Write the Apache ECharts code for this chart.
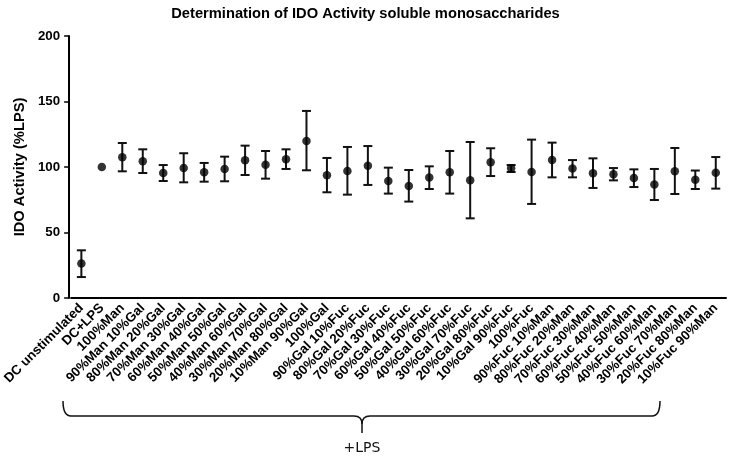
<!DOCTYPE html>
<html>
<head>
<meta charset="utf-8">
<script src="https://cdn.jsdelivr.net/npm/echarts@6/dist/echarts.min.js"></script>
<style>
html,body{margin:0;padding:0;background:#fff;}
#chart{width:731px;height:458px;}
</style>
</head>
<body>
<div id="chart"></div>
<script>
var categories = [
  'DC unstimulated','DC+LPS','100%Man',
  '90%Man 10%Gal','80%Man 20%Gal','70%Man 30%Gal','60%Man 40%Gal','50%Man 50%Gal',
  '40%Man 60%Gal','30%Man 70%Gal','20%Man 80%Gal','10%Man 90%Gal','100%Gal',
  '90%Gal 10%Fuc','80%Gal 20%Fuc','70%Gal 30%Fuc','60%Gal 40%Fuc','50%Gal 50%Fuc',
  '40%Gal 60%Fuc','30%Gal 70%Fuc','20%Gal 80%Fuc','10%Gal 90%Fuc','100%Fuc',
  '90%Fuc 10%Man','80%Fuc 20%Man','70%Fuc 30%Man','60%Fuc 40%Man','50%Fuc 50%Man',
  '40%Fuc 60%Man','30%Fuc 70%Man','20%Fuc 80%Man','10%Fuc 90%Man'
];
var means = [26.3,100,107.4,104.3,95.4,99.2,96.0,98.5,105.1,101.8,106.0,119.9,93.7,97.0,101.0,89.3,85.5,91.9,96.0,89.8,103.6,99.0,96.2,105.3,98.8,95.2,94.4,91.6,86.6,96.7,90.3,95.7];
var errHigh = [36.4,null,118.3,113.5,101.5,110.5,103.1,107.9,116.3,112.2,113.5,142.8,106.9,115.3,116.0,99.5,97.7,100.5,112.2,119.1,114.3,101.5,120.9,118.6,105.3,106.6,99.2,98.2,98.5,114.5,97.3,107.6];
var errLow = [16.0,null,96.7,95.4,89.3,88.3,88.8,89.1,93.9,91.1,98.5,97.5,80.7,78.9,86.3,79.7,73.6,83.2,79.7,60.8,93.1,96.2,71.8,92.1,92.1,84.0,89.8,84.7,74.8,79.4,83.2,83.5];
var yTicks = [0,50,100,150,200];
var titleText = 'Determination of IDO Activity soluble monosaccharides';
var yName = 'IDO Activity (%LPS)';
var bracketLabel = '+LPS';

var errData = categories.map(function(c,i){ return [i, errLow[i], errHigh[i]]; });
var pointData = categories.map(function(c,i){ return [i, means[i]]; });

var chart = echarts.init(document.getElementById('chart'), null, {renderer:'canvas'});
var FONT = 'Liberation Sans, Arial, sans-serif';
var bst = {stroke:'#111', lineWidth:1.5, fill:null};
chart.setOption({
  animation:false,
  backgroundColor:'#fff',
  title:{
    text:titleText, left:'center', top:1,
    textStyle:{fontFamily:FONT, fontWeight:'bold', fontSize:14.7, color:'#000'}
  },
  grid:{left:68, right:5, top:36, bottom:160, containLabel:false},
  xAxis:{
    type:'category', data:categories, boundaryGap:true,
    axisLine:{lineStyle:{color:'#000', width:2}},
    axisTick:{alignWithLabel:true, length:5, lineStyle:{color:'#000', width:1.5}},
    axisLabel:{interval:0, rotate:45, margin:8, color:'#000', fontFamily:FONT, fontWeight:'bold', fontSize:13.3},
    splitLine:{show:false}
  },
  yAxis:{
    type:'value', min:yTicks[0], max:yTicks[yTicks.length-1], interval:50, offset:2,
    name:yName, nameLocation:'middle', nameGap:27, nameRotate:90,
    nameTextStyle:{fontFamily:FONT, fontWeight:'bold', fontSize:14.7, color:'#000'},
    axisLine:{show:true, lineStyle:{color:'#000', width:2}},
    axisTick:{show:true, length:5, lineStyle:{color:'#000', width:1.5}},
    axisLabel:{margin:9, color:'#000', fontFamily:FONT, fontWeight:'bold', fontSize:13.3},
    splitLine:{show:false}
  },
  series:[
    {
      type:'custom', data:errData, z:2,
      renderItem:function(params, api){
        var lo = api.value(1), hi = api.value(2);
        if (lo == null || hi == null || isNaN(lo) || isNaN(hi)) return {type:'group', children:[]};
        var x = api.value(0);
        var p1 = api.coord([x, hi]);
        var p2 = api.coord([x, lo]);
        var hw = 4.5;
        var st = {stroke:'#111', lineWidth:2};
        return {type:'group', children:[
          {type:'line', shape:{x1:p1[0], y1:p1[1], x2:p2[0], y2:p2[1]}, style:st},
          {type:'line', shape:{x1:p1[0]-hw, y1:p1[1], x2:p1[0]+hw, y2:p1[1]}, style:st},
          {type:'line', shape:{x1:p2[0]-hw, y1:p2[1], x2:p2[0]+hw, y2:p2[1]}, style:st}
        ]};
      }
    },
    {
      type:'scatter', data:pointData, symbol:'circle', symbolSize:8.5, z:3,
      itemStyle:{color:'#000'}
    }
  ],
  graphic:[
    {type:'bezierCurve', shape:{x1:63,y1:401,cpx1:63,cpy1:416,x2:71,y2:416}, style:bst},
    {type:'line', shape:{x1:71,y1:416,x2:354,y2:416}, style:bst},
    {type:'bezierCurve', shape:{x1:354,y1:416,cpx1:362,cpy1:416,x2:362,y2:424}, style:bst},
    {type:'line', shape:{x1:362,y1:424,x2:362,y2:433}, style:bst},
    {type:'bezierCurve', shape:{x1:370,y1:416,cpx1:362,cpy1:416,x2:362,y2:424}, style:bst},
    {type:'line', shape:{x1:370,y1:416,x2:652,y2:416}, style:bst},
    {type:'bezierCurve', shape:{x1:652,y1:416,cpx1:660,cpy1:416,x2:660,y2:401}, style:bst},
    {type:'text', x:362, y:448,
     style:{text:bracketLabel, fontFamily:'DejaVu Sans, sans-serif', fontSize:14, fill:'#111', align:'center', verticalAlign:'middle'}}
  ]
});
</script>
</body>
</html>
